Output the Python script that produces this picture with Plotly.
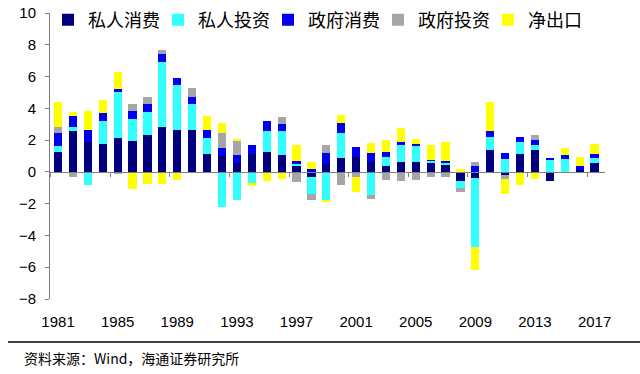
import plotly.graph_objects as go

years = list(range(1981, 2018))
tick_years = years[::4]

pc = [1.25, 2.6, 1.85, 1.75, 2.15, 1.95, 2.35, 2.85, 2.65, 2.65,
      1.15, 1.0, 0.55, 1.15, 1.25, 1.05, 0.38, -0.3, 0.5, 0.9,
      0.95, 0.65, 0.38, 0.65, 0.65, 0.55, 0.45, -0.6, -0.4, 1.35,
      -0.2, 1.13, 1.35, -0.55, 0.0, 0.15, 0.55]
pi = [0.4, 0.25, -0.8, 1.45, 2.85, 1.4, 1.45, 4.05, 2.85, 1.65,
      1.0, -2.2, -1.8, -0.7, 1.35, 1.55, 0.12, -1.1, -1.8, 1.57,
      0.0, -1.45, 0.58, 1.05, 1.0, 0.16, 0.08, -0.43, -4.35, 0.85,
      0.8, 0.74, 0.34, 0.8, 0.8, 0.0, 0.32]
gc = [0.8, 0.65, 0.8, 0.5, 0.2, 0.5, 0.5, 0.5, 0.4, 0.4,
      0.5, 0.5, 0.5, 0.55, 0.6, 0.4, 0.2, 0.17, 0.67, 0.6,
      0.63, 0.52, 0.28, 0.17, 0.12, 0.05, 0.17, 0.0, 0.38, 0.4,
      0.37, 0.35, 0.3, 0.1, 0.27, 0.25, 0.27]
gi = [0.4, -0.3, 0.0, 0.0, -0.15, 0.4, 0.4, 0.3, 0.0, 0.6,
      0.0, 0.95, 0.95, 0.0, 0.0, 0.45, -0.63, -0.35, 0.5, -0.8,
      -0.35, -0.27, -0.5, -0.6, -0.5, -0.35, -0.34, -0.21, 0.27, 0.0,
      -0.27, 0.0, 0.32, 0.0, 0.0, 0.0, 0.0]
nx = [1.55, 0.3, 1.2, 0.8, 1.1, -1.1, -0.75, -0.75, -0.5, 0.0,
      0.85, 0.6, 0.1, -0.2, -0.6, -0.45, 1.0, 0.48, -0.1, 0.5,
      -0.9, 0.67, 0.77, 0.88, 0.32, 0.95, 1.15, 0.17, -1.42, 1.8,
      -0.92, -0.82, -0.46, 0.0, 0.42, 0.56, 0.62]

series = [
    ("私人消费", pc, "#00007F"),
    ("私人投资", pi, "#33FFFF"),
    ("政府消费", gc, "#0000F0"),
    ("政府投资", gi, "#A6A6A6"),
    ("净出口", nx, "#FFFF00"),
]

fig = go.Figure()
for name, vals, color in series:
    fig.add_trace(go.Bar(x=years, y=vals, name=name, width=0.55,
                         marker=dict(color=color, line=dict(width=0))))

# invisible trace to carry the zero-line tick axis
fig.add_trace(go.Scatter(x=[years[0]], y=[0], xaxis="x2", mode="markers",
                         marker=dict(opacity=0), showlegend=False, hoverinfo="skip"))

xr = [1980.46, 2017.7]
axis_font = dict(family="Liberation Sans, Arial", size=15, color="#000000")

fig.update_layout(
    width=640, height=374,
    margin=dict(l=50, r=35, t=13, b=75, autoexpand=False),
    paper_bgcolor="white", plot_bgcolor="white",
    barmode="relative", bargap=0,
    showlegend=True,
    legend=dict(orientation="h", xref="container", yref="container",
                x=48 / 640, y=1 - 20 / 374, xanchor="left", yanchor="middle",
                font=dict(family="Noto Sans CJK SC", size=18, color="#000000"),
                itemwidth=30, bgcolor="rgba(0,0,0,0)",
                entrywidth=65, entrywidthmode="pixels"),
    xaxis=dict(range=xr, tickvals=tick_years, ticktext=[str(y) for y in tick_years],
               showgrid=False, zeroline=False, showline=False, ticks="",
               tickfont=axis_font, ticklabelstandoff=12),
    xaxis2=dict(range=xr, overlaying="x", anchor="free", position=8/18, side="bottom",
                tickvals=[y - 0.5 for y in tick_years], showticklabels=False,
                ticks="outside", ticklen=4, tickcolor="#808080",
                showline=True, linecolor="#808080", linewidth=1,
                showgrid=False, zeroline=False),
    yaxis=dict(range=[-8, 10], tickvals=list(range(-8, 11, 2)),
               showgrid=False, zeroline=False, showline=True,
               linecolor="#808080", linewidth=1, ticks="outside", ticklen=4,
               tickcolor="#808080", tickfont=axis_font, ticklabelstandoff=6),
)

fig.add_shape(type="line", xref="paper", yref="paper",
              x0=(8 - 50) / 555, x1=(640 - 50) / 555,
              y0=(299 - 342) / 286, y1=(299 - 342) / 286,
              line=dict(color="#000000", width=1.5))

fig.add_annotation(text="资料来源：Wind，海通证券研究所", xref="paper", yref="paper",
                   x=(22 - 50) / 555, y=(299 - 358) / 286, xanchor="left", yanchor="middle",
                   showarrow=False,
                   font=dict(family="Noto Sans CJK SC", size=14, color="#000000"))

fig.write_html("out.html", config={"displayModeBar": False},
               post_script="document.body.style.margin='0';document.body.style.padding='0';")
